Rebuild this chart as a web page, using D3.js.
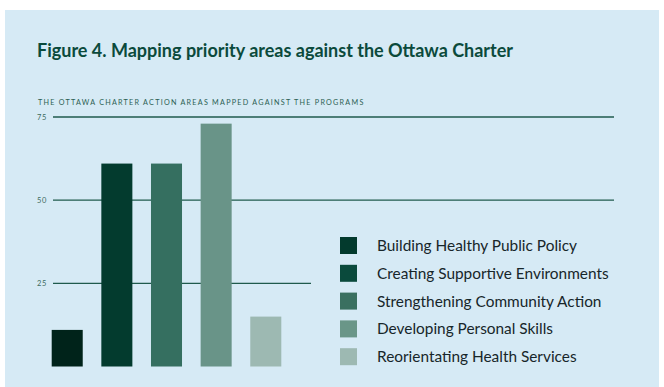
<!DOCTYPE html>
<html>
<head>
<meta charset="utf-8">
<script src="https://cdn.jsdelivr.net/npm/d3@7"></script>
<style>
  html, body { margin: 0; padding: 0; background: #ffffff; }
  svg { display: block; }
</style>
</head>
<body>
<svg id="chart" width="664" height="387"></svg>
<script>
// Ottawa Charter action areas mapped against the programs
const categories = [
  "Building Healthy Public Policy",
  "Creating Supportive Environments",
  "Strengthening Community Action",
  "Developing Personal Skills",
  "Reorientating Health Services"
];
const programCounts = [11, 61, 61, 73, 15];
const tickValues = [25, 50, 75];
const barColors = ["#00231a", "#033b2e", "#356f60", "#699488", "#9db9b2"];
const swatchColors = ["#033a2d", "#0a4a3c", "#3a7060", "#6a9688", "#9db9b2"];

const svg = d3.select("#chart");
const W = 664, H = 387;

// panel background
svg.append("rect")
  .attr("x", 5).attr("y", 10)
  .attr("width", 654).attr("height", H - 10)
  .attr("fill", "#d6eaf5");

// title + subtitle
svg.append("text")
  .attr("x", 37).attr("y", 57)
  .attr("font-family", "Lato, 'Open Sans', sans-serif")
  .attr("font-weight", 700)
  .attr("font-size", 18)
  .attr("fill", "#0b4a3c")
  .text("Figure 4. Mapping priority areas against the Ottawa Charter");

svg.append("text")
  .attr("x", 38).attr("y", 105)
  .attr("font-family", "Lato, 'Open Sans', sans-serif")
  .attr("font-size", 7.2)
  .attr("letter-spacing", 1.25)
  .attr("fill", "#2b5f53")
  .text("THE OTTAWA CHARTER ACTION AREAS MAPPED AGAINST THE PROGRAMS");

// scales
const x = d3.scaleBand()
  .domain(categories)
  .range([51.7, 281.3])
  .paddingInner(0.375)
  .paddingOuter(0);

const y = d3.scaleLinear()
  .domain([0, 75])
  .range([366.5, 117]);

const gridLeft = 53, gridRight = 614;
const legendX = 340, legendTop = 237, legendStep = 27.8, swatch = 17;

// gridlines stop short of the legend block where they would cross it
const grid = svg.append("g");
grid.selectAll("line")
  .data(tickValues)
  .join("line")
  .attr("x1", gridLeft)
  .attr("x2", d => y(d) > legendTop - 10 ? legendX - 29 : gridRight)
  .attr("y1", d => y(d))
  .attr("y2", d => y(d))
  .attr("stroke", "#1f5a4c")
  .attr("stroke-width", 1.3);

// y axis labels
const axis = svg.append("g")
  .attr("transform", `translate(${gridLeft - 4},0)`)
  .call(d3.axisLeft(y).tickValues(tickValues).tickSize(0).tickPadding(2));
axis.select(".domain").remove();
axis.selectAll("text")
  .attr("font-family", "Lato, 'Open Sans', sans-serif")
  .attr("font-size", 7.5)
  .attr("letter-spacing", 0.6)
  .attr("fill", "#3d6b60");

// bars
svg.append("g").selectAll("rect")
  .data(programCounts)
  .join("rect")
  .attr("x", (d, i) => x(categories[i]))
  .attr("y", d => y(d))
  .attr("width", x.bandwidth())
  .attr("height", d => y(0) - y(d))
  .attr("fill", (d, i) => barColors[i]);

// legend
const legend = svg.append("g");
const rows = legend.selectAll("g")
  .data(categories)
  .join("g")
  .attr("transform", (d, i) => `translate(${legendX},${legendTop + i * legendStep})`);
rows.append("rect")
  .attr("width", swatch).attr("height", swatch)
  .attr("fill", (d, i) => swatchColors[i]);
rows.append("text")
  .attr("x", 37).attr("y", swatch / 2)
  .attr("dy", "0.36em")
  .attr("font-family", "Lato, 'Open Sans', sans-serif")
  .attr("font-size", 15.4)
  .attr("fill", "#17262a")
  .text(d => d);
</script>
</body>
</html>
